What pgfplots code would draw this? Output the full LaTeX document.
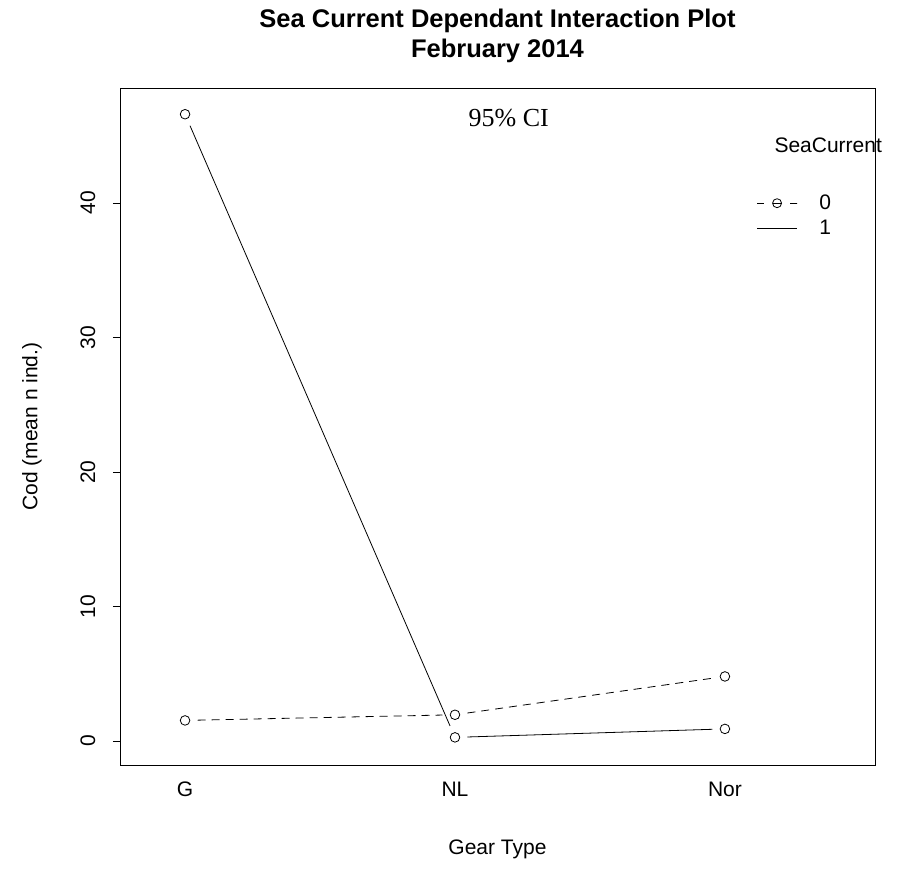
\documentclass[border=0pt]{standalone}
\usepackage{fontspec}
\setmainfont{Liberation Sans}
\newfontfamily\cifont{Liberation Serif}
\usepackage{pgfplots}
\pgfplotsset{compat=1.18}
\begin{document}
\begin{tikzpicture}
\begin{axis}[
  scale only axis, width=755bp, height=677bp,
  xmin=-0.241, xmax=2.556, ymin=-1.784, ymax=48.55,
  xtick={0,1,2}, xticklabels={G,NL,Nor},
  ytick={0,10,20,30,40},
  tick align=outside, major tick length=7bp,
  ytick pos=left, xtick pos=bottom,
  xtick style={draw=none},
  ytick style={black, line width=0.7bp},
  axis line style={black, line width=0.9bp},
  /pgf/number format/assume math mode=true,
  ticklabel style={font=\fontsize{21bp}{24bp}\selectfont},
  yticklabel style={rotate=90, anchor=south, inner xsep=0pt, inner ysep=17.5bp},
  xticklabel style={anchor=north, inner sep=0pt, yshift=-10bp},
  clip=false,
  legend style={draw=none, fill=none, at={(rel axis cs:0.843,0.845)}, anchor=north west,
    font=\fontsize{21bp}{24bp}\selectfont, row sep=5bp, inner sep=0pt},
  legend cell align=left,
  legend image code/.code={\draw[mark repeat=2,mark phase=2,#1] plot coordinates {(0bp,0bp) (20bp,0bp) (40bp,0bp)};},
  seg/.style={black, line width=0.8bp, shorten <=12.5bp, shorten >=12.5bp, forget plot},
]
% series 0 (SeaCurrent = 0, dashed), drawn as separate segments with gaps (type "b")
\addplot[seg, dash pattern=on 8bp off 6bp] coordinates {(0,1.53) (1,1.95)};
\addplot[seg, dash pattern=on 8bp off 6bp] coordinates {(1,1.95) (2,4.8)};
\addplot[only marks, mark=o, mark size=4.8bp, black, line width=0.8bp, forget plot] coordinates {(0,1.53) (1,1.95) (2,4.8)};
% series 1 (SeaCurrent = 1, solid)
\addplot[seg] coordinates {(0,46.6) (1,0.27)};
\addplot[seg] coordinates {(1,0.27) (2,0.9)};
\addplot[only marks, mark=o, mark size=4.8bp, black, line width=0.8bp, forget plot] coordinates {(0,46.6) (1,0.27) (2,0.9)};
\addlegendimage{black, line width=0.8bp, dash pattern=on 7bp off 8.5bp on 9bp off 8.5bp on 7bp off 0bp, mark=o, mark size=4.5bp, mark options={solid}}
\addlegendentry{\hspace{20bp}0}
\addlegendimage{black, line width=0.8bp}
\addlegendentry{\hspace{20bp}1}
\node[font=\fontsize{21bp}{24bp}\selectfont] at (rel axis cs:0.938,0.915) {SeaCurrent};
\node[font=\cifont\fontsize{26bp}{30bp}\selectfont] at (rel axis cs:0.515,0.956) {95\% CI};
\node[font=\bfseries\fontsize{25.5bp}{30bp}\selectfont, align=center, anchor=south] at (rel axis cs:0.5,1.0325) {Sea Current Dependant Interaction Plot\\February 2014};
\node[font=\fontsize{21bp}{24bp}\selectfont] at (rel axis cs:0.5,-0.1247) {Gear Type};
\node[font=\fontsize{21bp}{24bp}\selectfont, rotate=90] at (rel axis cs:-0.1166,0.5) {Cod (mean n ind.)};
\coordinate (sw) at (rel axis cs:0,0);
\coordinate (ne) at (rel axis cs:1,1);
\end{axis}
\pgfresetboundingbox
\useasboundingbox ([xshift=-120bp,yshift=-105bp]sw) rectangle ([xshift=23bp,yshift=88bp]ne);
\end{tikzpicture}
\end{document}
